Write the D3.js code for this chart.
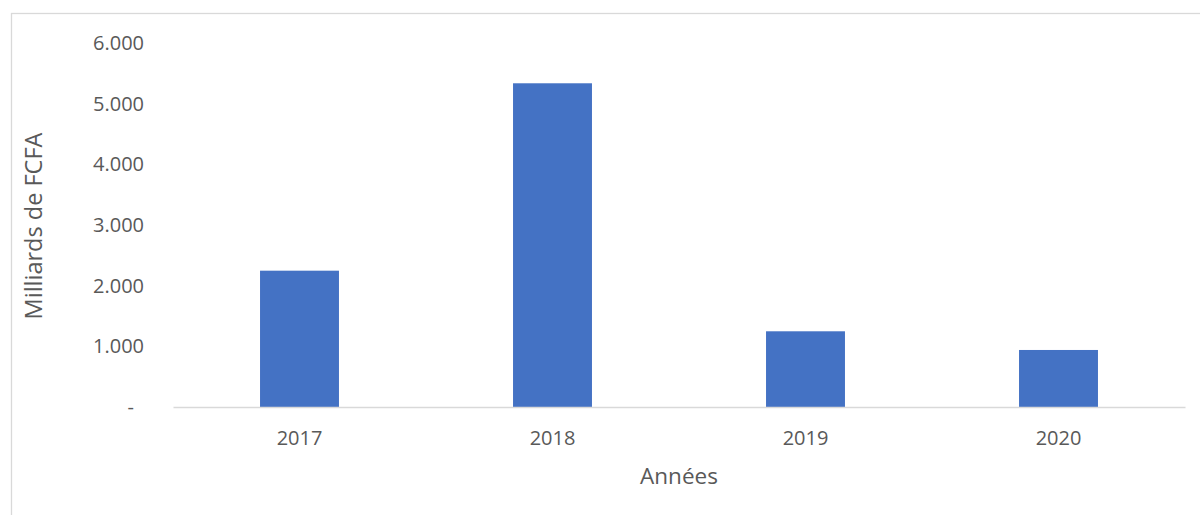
<!DOCTYPE html>
<html>
<head>
<meta charset="utf-8">
<script src="https://cdn.jsdelivr.net/npm/d3@7"></script>
<style>
  html, body { margin: 0; padding: 0; background: #fff; }
  svg { display: block; }
  text { font-family: "Open Sans", "Noto Sans", sans-serif; fill: #595959; }
</style>
</head>
<body>
<svg id="chart" width="1200" height="515"></svg>
<script>
const categories = ["2017", "2018", "2019", "2020"];
const values = [2247, 5336, 1248, 940];
const yTicks = [0, 1000, 2000, 3000, 4000, 5000, 6000];
const yTitle = "Milliards de FCFA";
const xTitle = "Années";

(function () {
const svg = d3.select("#chart");
const W = 1200, H = 515;

// outer chart border (extends beyond right/bottom edges)
svg.append("rect")
  .attr("x", 11.5).attr("y", 13.5)
  .attr("width", W + 10).attr("height", H + 10)
  .attr("fill", "#fff").attr("stroke", "#d9d9d9").attr("stroke-width", 1.3);

const mLeft = 173, mRight = 1185, mTop = 43, mBottom = 407;

const x = d3.scaleBand().domain(categories).range([mLeft, mRight]).padding(0);
const y = d3.scaleLinear().domain([0, 6000]).range([mBottom, mTop]);

const fr = d3.formatLocale({decimal: ",", thousands: ".", grouping: [3], currency: ["", ""]});
const fmt = fr.format(",");

// bars
const barW = x.bandwidth() * 0.312;
svg.append("g").selectAll("rect")
  .data(categories.map((c, i) => ({c, v: values[i]})))
  .join("rect")
  .attr("x", d => x(d.c) + x.bandwidth() / 2 - barW / 2)
  .attr("y", d => y(d.v))
  .attr("width", barW)
  .attr("height", d => y(0) - y(d.v))
  .attr("fill", "#4472c4");

// x axis
const xAxis = svg.append("g")
  .attr("transform", `translate(0,${mBottom})`)
  .call(d3.axisBottom(x).tickSize(0).tickPadding(24));
xAxis.select(".domain").attr("stroke", "#d9d9d9").attr("stroke-width", 1.5);
xAxis.selectAll("text")
  .style("font-family", "'Open Sans', 'Noto Sans', sans-serif")
  .attr("font-size", 20).attr("fill", "#595959");

// y axis (labels only)
const yAxis = svg.append("g")
  .attr("transform", `translate(144,0)`)
  .call(d3.axisLeft(y).tickValues(yTicks).tickSize(0).tickPadding(0)
    .tickFormat(d => d === 0 ? "-" : fmt(d)));
yAxis.select(".domain").remove();
yAxis.selectAll("text")
  .style("font-family", "'Open Sans', 'Noto Sans', sans-serif")
  .attr("font-size", 20).attr("fill", "#595959");
yAxis.selectAll(".tick").filter(d => d === 0).select("text").attr("x", -10);

// axis titles
svg.append("text")
  .attr("transform", `translate(36,${(mTop + mBottom) / 2 + 1}) rotate(-90)`)
  .attr("text-anchor", "middle").attr("dominant-baseline", "middle")
  .attr("font-size", 23.5)
  .text(yTitle);

svg.append("text")
  .attr("x", 679).attr("y", 478)
  .attr("text-anchor", "middle").attr("dominant-baseline", "middle")
  .attr("font-size", 22.5)
  .text(xTitle);
})();
</script>
</body>
</html>
